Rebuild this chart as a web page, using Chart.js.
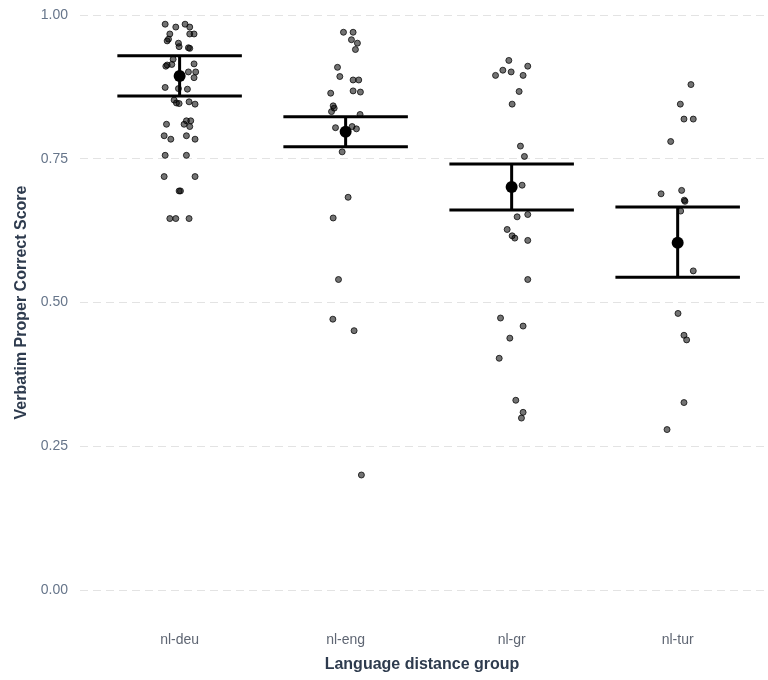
<!DOCTYPE html>
<html>
<head>
<meta charset="utf-8">
<style>
  html, body { margin: 0; padding: 0; background: #ffffff; }
  #wrap { width: 768px; height: 680px; }
</style>
<script src="https://cdn.jsdelivr.net/npm/chart.js@4.4.1/dist/chart.umd.min.js"></script>
</head>
<body>
<div id="wrap"><canvas id="chart" width="768" height="680"></canvas></div>
<script>
// Groups on the x axis
const categories = ['nl-deu', 'nl-eng', 'nl-gr', 'nl-tur'];
const yTicks = [0, 0.25, 0.5, 0.75, 1];

// Individual scores per group, with the horizontal jitter of each point (in category units)
const deuScores = [0.984, 0.979, 0.984, 0.979, 0.967, 0.967, 0.967, 0.958, 0.955, 0.951, 0.945, 0.943, 0.942,
  0.923, 0.913, 0.911, 0.914, 0.915, 0.901, 0.901, 0.891, 0.874, 0.872, 0.871, 0.852, 0.847, 0.846, 0.849, 0.845,
  0.816, 0.816, 0.810, 0.806, 0.810, 0.790, 0.784, 0.790, 0.784, 0.756, 0.756, 0.719, 0.719, 0.694, 0.694,
  0.646, 0.646, 0.646];
const deuJitter = [-0.087, -0.023, 0.033, 0.061, -0.059, 0.061, 0.087, -0.067, -0.075, -0.007, -0.003, 0.053, 0.061,
  -0.039, -0.075, -0.083, -0.047, 0.087, 0.053, 0.097, 0.087, -0.087, -0.007, 0.047, -0.033, -0.019, -0.003, 0.057, 0.093,
  0.041, 0.067, 0.027, 0.061, -0.079, -0.093, -0.053, 0.041, 0.093, -0.087, 0.041, -0.093, 0.093, -0.003, 0.005,
  -0.059, -0.023, 0.057];

const engScores = [0.970, 0.970, 0.957, 0.951, 0.940, 0.909, 0.893, 0.887, 0.887, 0.864, 0.868, 0.866,
  0.842, 0.838, 0.832, 0.827, 0.804, 0.806, 0.802, 0.762, 0.683, 0.647, 0.540, 0.471, 0.451, 0.200];
const engJitter = [-0.013, 0.045, 0.035, 0.071, 0.059, -0.049, -0.035, 0.045, 0.079, -0.090, 0.045, 0.089,
  -0.075, -0.069, -0.085, 0.087, -0.061, 0.039, 0.065, -0.021, 0.015, -0.075, -0.043, -0.077, 0.051, 0.095];

const grScores = [0.921, 0.904, 0.901, 0.911, 0.895, 0.895, 0.867, 0.845, 0.772, 0.754, 0.704,
  0.649, 0.653, 0.627, 0.616, 0.612, 0.608, 0.540, 0.473, 0.459, 0.438, 0.403, 0.330, 0.309, 0.299];
const grJitter = [-0.017, -0.053, -0.003, 0.097, -0.097, 0.069, 0.045, 0.003, 0.053, 0.077, 0.063,
  0.033, 0.097, -0.027, 0.003, 0.019, 0.097, 0.097, -0.067, 0.069, -0.011, -0.075, 0.025, 0.069, 0.059];

const turScores = [0.879, 0.845, 0.819, 0.819, 0.780, 0.689, 0.695, 0.678, 0.676, 0.659,
  0.555, 0.481, 0.443, 0.435, 0.326, 0.279];
const turJitter = [0.080, 0.016, 0.038, 0.094, -0.042, -0.100, 0.024, 0.040, 0.044, 0.018,
  0.094, 0.002, 0.038, 0.054, 0.038, -0.064];

// Group means and their 95% confidence limits
const groupMeans = [0.894, 0.797, 0.701, 0.604];
const ciLower = [0.859, 0.771, 0.661, 0.544];
const ciUpper = [0.929, 0.823, 0.741, 0.666];

const groupScores = [deuScores, engScores, grScores, turScores];
const groupJitter = [deuJitter, engJitter, grJitter, turJitter];

function jitterPoints(g) {
  return groupScores[g].map((s, i) => ({ x: g + 1 + groupJitter[g][i], y: s }));
}

const capWidth = 0.75; // error-bar cap width in category units

const errorBarPlugin = {
  id: 'errorBars',
  afterDatasetsDraw(chart) {
    const { ctx, scales: { x, y } } = chart;
    ctx.save();
    ctx.strokeStyle = '#000000';
    ctx.lineWidth = 3;
    ctx.lineCap = 'butt';
    groupMeans.forEach((m, g) => {
      const cx = x.getPixelForValue(g + 1);
      const x0 = x.getPixelForValue(g + 1 - capWidth / 2);
      const x1 = x.getPixelForValue(g + 1 + capWidth / 2);
      const yLo = y.getPixelForValue(ciLower[g]);
      const yHi = y.getPixelForValue(ciUpper[g]);
      ctx.beginPath();
      ctx.moveTo(cx, yLo); ctx.lineTo(cx, yHi);
      ctx.moveTo(x0, yLo); ctx.lineTo(x1, yLo);
      ctx.moveTo(x0, yHi); ctx.lineTo(x1, yHi);
      ctx.stroke();
      ctx.beginPath();
      ctx.fillStyle = '#000000';
      ctx.arc(cx, y.getPixelForValue(m), 6, 0, Math.PI * 2);
      ctx.fill();
    });
    ctx.restore();
  }
};

const pointStyle = {
  backgroundColor: 'rgba(0,0,0,0.55)',
  borderColor: 'rgba(0,0,0,0.75)',
  borderWidth: 1,
  pointRadius: 3,
  pointHoverRadius: 3
};

new Chart(document.getElementById('chart'), {
  type: 'scatter',
  data: {
    datasets: categories.map((c, g) => Object.assign({ label: c, data: jitterPoints(g) }, pointStyle))
  },
  options: {
    responsive: false,
    animation: false,
    layout: { padding: { top: 15, right: 0, bottom: 0, left: 0 } },
    plugins: { legend: { display: false }, tooltip: { enabled: false } },
    scales: {
      x: {
        type: 'linear',
        min: 0.4,
        max: 4.52,
        afterBuildTicks: (scale) => { scale.ticks = categories.map((c, i) => ({ value: i + 1 })); },
        afterFit: (scale) => { scale.height = 90; },
        grid: { display: false, drawTicks: false },
        border: { display: false },
        ticks: {
          padding: 42,
          color: '#5f6673',
          font: { family: 'Liberation Sans, Arial, sans-serif', size: 14 },
          callback: (v) => categories[Math.round(v) - 1] || ''
        },
        title: {
          display: true,
          text: 'Language distance group',
          color: '#2e3b4e',
          font: { family: 'Liberation Sans, Arial, sans-serif', size: 16, weight: 'bold' },
          padding: { top: 0, bottom: 6 }
        }
      },
      y: {
        type: 'linear',
        min: 0,
        max: 1,
        afterBuildTicks: (scale) => { scale.ticks = yTicks.map(v => ({ value: v })); },
        afterFit: (scale) => { scale.width = 80; scale.paddingTop = 8; scale.paddingBottom = 8; },
        grid: { color: '#e3e3e3', lineWidth: 1, drawTicks: false },
        border: { display: false, dash: [8, 5] },
        ticks: {
          padding: 12,
          color: '#66758a',
          font: { family: 'Liberation Sans, Arial, sans-serif', size: 14 },
          callback: (v) => Number(v).toFixed(2)
        },
        title: {
          display: true,
          text: 'Verbatim Proper Correct Score',
          color: '#2e3b4e',
          font: { family: 'Liberation Sans, Arial, sans-serif', size: 16, weight: 'bold' },
          padding: { top: 12, bottom: 0 }
        }
      }
    }
  },
  plugins: [errorBarPlugin]
});
</script>
</body>
</html>
